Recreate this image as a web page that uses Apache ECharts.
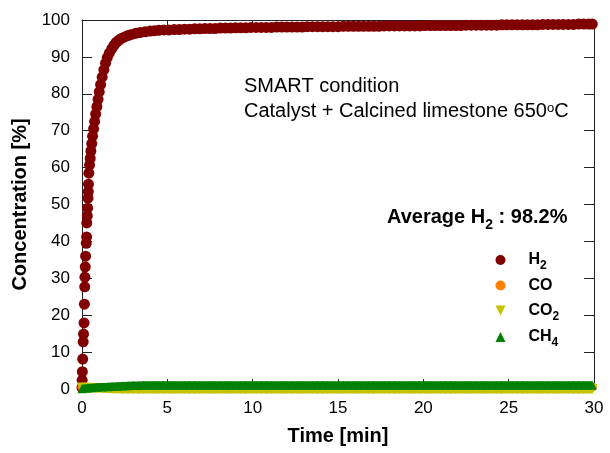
<!DOCTYPE html>
<html>
<head>
<meta charset="utf-8">
<script src="https://cdn.jsdelivr.net/npm/echarts@6/dist/echarts.min.js"></script>
<style>html,body{margin:0;padding:0;background:#fff}#c{width:610px;height:453px}</style>
</head>
<body>
<div id="c"></div>
<script>
// ---------- DATA ----------
const seriesNames = ['H2', 'CO', 'CO2', 'CH4'];

const h2Time = [
  0, 0.01, 0.02, 0.04, 0.07, 0.09, 0.12, 0.14, 0.16, 0.17,
  0.19, 0.21, 0.25, 0.27, 0.28, 0.31, 0.33, 0.35, 0.37, 0.38,
  0.40, 0.44, 0.48, 0.52, 0.57, 0.62, 0.68, 0.74, 0.80, 0.87,
  0.94, 1.01, 1.09, 1.18, 1.28, 1.38, 1.48, 1.60, 1.74, 1.87,
  2.00, 2.15, 2.30, 2.50, 2.70, 2.90, 3.15, 3.40, 3.70, 4.00,
  4.25,
  4.5, 4.8, 5.1, 5.4, 5.7, 6.0, 6.3, 6.6, 6.9, 7.2,
  7.5, 7.8, 8.1, 8.4, 8.7, 9.0, 9.3, 9.6, 9.9, 10.2,
  10.5, 10.8, 11.1, 11.4, 11.7, 12.0, 12.3, 12.6, 12.9, 13.2,
  13.5, 13.8, 14.1, 14.4, 14.7, 15.0, 15.3, 15.6, 15.9, 16.2,
  16.5, 16.8, 17.1, 17.4, 17.7, 18.0, 18.3, 18.6, 18.9, 19.2,
  19.5, 19.8, 20.1, 20.4, 20.7, 21.0, 21.3, 21.6, 21.9, 22.2,
  22.5, 22.8, 23.1, 23.4, 23.7, 24.0, 24.3, 24.6, 24.9, 25.2,
  25.5, 25.8, 26.1, 26.4, 26.7, 27.0, 27.3, 27.6, 27.9, 28.2,
  28.5, 28.8, 29.1, 29.4, 29.7, 29.9
];
const h2Value = [
  0.4, 2.4, 4.7, 8.1, 12.8, 14.9, 17.9, 23.0, 27.7, 30.3,
  33.1, 36.0, 39.5, 41.2, 45.0, 46.9, 49.0, 51.7, 53.5, 55.5,
  58.5, 60.7, 62.5, 64.5, 66.5, 68.5, 70.5, 72.5, 74.5, 76.5,
  78.5, 80.5, 82.5, 84.5, 86.5, 88.3, 89.8, 91.0, 92.2, 93.1,
  93.9, 94.5, 95.0, 95.4, 95.8, 96.1, 96.4, 96.6, 96.8, 97.0,
  97.1,
  97.2, 97.3, 97.3, 97.4, 97.4, 97.5, 97.5, 97.6, 97.6, 97.7,
  97.7, 97.7, 97.8, 97.8, 97.8, 97.9, 97.9, 97.9, 98.0, 98.0,
  98.0, 98.0, 98.0, 98.1, 98.1, 98.1, 98.1, 98.1, 98.1, 98.2,
  98.2, 98.2, 98.2, 98.2, 98.2, 98.2, 98.3, 98.3, 98.3, 98.3,
  98.3, 98.3, 98.3, 98.3, 98.4, 98.4, 98.4, 98.4, 98.4, 98.4,
  98.4, 98.4, 98.5, 98.5, 98.5, 98.5, 98.5, 98.5, 98.5, 98.5,
  98.6, 98.6, 98.6, 98.6, 98.6, 98.6, 98.6, 98.7, 98.7, 98.7,
  98.7, 98.7, 98.7, 98.7, 98.7, 98.8, 98.8, 98.8, 98.8, 98.8,
  98.8, 98.8, 98.9, 98.9, 98.9, 98.9
];

const gasTime = [
  0, 0.3, 0.6, 0.9, 1.2, 1.5, 1.8, 2.1, 2.4, 2.7,
  3.0, 3.3, 3.6, 3.9, 4.2, 4.5, 4.8, 5.1, 5.4, 5.7,
  6.0, 6.3, 6.6, 6.9, 7.2, 7.5, 7.8, 8.1, 8.4, 8.7,
  9.0, 9.3, 9.6, 9.9, 10.2, 10.5, 10.8, 11.1, 11.4, 11.7,
  12.0, 12.3, 12.6, 12.9, 13.2, 13.5, 13.8, 14.1, 14.4, 14.7,
  15.0, 15.3, 15.6, 15.9, 16.2, 16.5, 16.8, 17.1, 17.4, 17.7,
  18.0, 18.3, 18.6, 18.9, 19.2, 19.5, 19.8, 20.1, 20.4, 20.7,
  21.0, 21.3, 21.6, 21.9, 22.2, 22.5, 22.8, 23.1, 23.4, 23.7,
  24.0, 24.3, 24.6, 24.9, 25.2, 25.5, 25.8, 26.1, 26.4, 26.7,
  27.0, 27.3, 27.6, 27.9, 28.2, 28.5, 28.8, 29.1, 29.4, 29.7,
  29.9
];
const coValue = [
  0.5, 0.45, 0.4, 0.4, 0.4, 0.4, 0.4, 0.4, 0.4, 0.4,
  0.4, 0.4, 0.4, 0.4, 0.4, 0.4, 0.4, 0.4, 0.4, 0.4,
  0.4, 0.4, 0.4, 0.4, 0.4, 0.4, 0.4, 0.4, 0.4, 0.4,
  0.4, 0.4, 0.4, 0.4, 0.4, 0.4, 0.4, 0.4, 0.4, 0.4,
  0.4, 0.4, 0.4, 0.4, 0.4, 0.4, 0.4, 0.4, 0.4, 0.4,
  0.4, 0.4, 0.4, 0.4, 0.4, 0.4, 0.4, 0.4, 0.4, 0.4,
  0.4, 0.4, 0.4, 0.4, 0.4, 0.4, 0.4, 0.4, 0.4, 0.4,
  0.4, 0.4, 0.4, 0.4, 0.4, 0.4, 0.4, 0.4, 0.4, 0.4,
  0.4, 0.4, 0.4, 0.4, 0.4, 0.4, 0.4, 0.4, 0.4, 0.4,
  0.4, 0.4, 0.4, 0.4, 0.4, 0.4, 0.4, 0.4, 0.4, 0.45,
  0.5
];
const co2Value = [
  0.4, 0.35, 0.3, 0.25, 0.2, 0.15, 0.1, 0.05, 0.02, 0.0,
  0.0, 0.0, 0.0, 0.0, 0.0, 0.0, 0.0, 0.0, 0.0, 0.0,
  0.0, 0.0, 0.0, 0.0, 0.0, 0.0, 0.0, 0.0, 0.0, 0.0,
  0.0, 0.0, 0.0, 0.0, 0.0, 0.0, 0.0, 0.0, 0.0, 0.0,
  0.0, 0.0, 0.0, 0.0, 0.0, 0.0, 0.0, 0.0, 0.0, 0.0,
  0.0, 0.0, 0.0, 0.0, 0.0, 0.0, 0.0, 0.0, 0.0, 0.0,
  0.0, 0.0, 0.0, 0.0, 0.0, 0.0, 0.0, 0.0, 0.0, 0.0,
  0.0, 0.0, 0.0, 0.0, 0.0, 0.0, 0.0, 0.0, 0.0, 0.0,
  0.0, 0.0, 0.0, 0.0, 0.0, 0.0, 0.0, 0.0, 0.0, 0.0,
  0.0, 0.0, 0.0, 0.0, 0.0, 0.0, 0.0, 0.0, 0.0, 0.0,
  0.0
];
const ch4Value = [
  0.05, 0.2, 0.35, 0.45, 0.55, 0.6, 0.68, 0.75, 0.82, 0.88,
  0.93, 0.97, 1.0, 1.0, 1.0, 1.0, 1.0, 1.0, 1.0, 1.0,
  1.0, 1.0, 1.0, 1.0, 1.0, 1.0, 1.0, 1.0, 1.0, 1.0,
  1.0, 1.0, 1.0, 1.0, 1.0, 1.0, 1.0, 1.0, 1.0, 1.0,
  1.0, 1.0, 1.0, 1.0, 1.0, 1.0, 1.0, 1.0, 1.0, 1.0,
  1.0, 1.0, 1.0, 1.0, 1.0, 1.0, 1.0, 1.0, 1.0, 1.0,
  1.0, 1.0, 1.0, 1.0, 1.0, 1.0, 1.0, 1.0, 1.0, 1.0,
  1.0, 1.0, 1.0, 1.0, 1.0, 1.0, 1.0, 1.0, 1.0, 1.0,
  1.0, 1.0, 1.0, 1.0, 1.0, 1.0, 1.0, 1.0, 1.0, 1.0,
  1.0, 1.0, 1.0, 1.0, 1.0, 1.0, 1.0, 1.0, 1.0, 1.0,
  1.0
];

const xMin = 0, xMax = 30, xStep = 5;
const yMin = 0, yMax = 100, yStep = 10;

// ---------- STYLE ----------
const FONT = '"Liberation Sans", Arial, Helvetica, sans-serif';
const colors = { H2: '#800000', CO: '#ff8000', CO2: '#c3c300', CH4: '#008000' };
const pairs = (t, v) => t.map((x, i) => [x, v[i]]);

const chart = echarts.init(document.getElementById('c'), null, { renderer: 'canvas' });

const baseAxis = {
  type: 'value',
  axisLine: { show: true, onZero: false, lineStyle: { color: '#222', width: 1 } },
  axisTick: { show: true, inside: true, length: 10, lineStyle: { color: '#222', width: 1 } },
  splitLine: { show: false },
  minorTick: { show: false }
};
const labelStyle = { color: '#000', fontSize: 17, fontFamily: FONT };
const nameStyle = { color: '#000', fontSize: 20, fontWeight: 'bold', fontFamily: FONT };

const legendLabels = {
  H2: '{b|H}{s|2}', CO: '{b|CO}', CO2: '{b|CO}{s|2}', CH4: '{b|CH}{s|4}'
};
const legendIcons = {
  H2: 'circle', CO: 'circle',
  CO2: 'path://M0,0L10,0L5,10Z',
  CH4: 'path://M5,0L10,10L0,10Z'
};
const legendTops = [252, 277.5, 302.5, 329];

const option = {
  animation: false,
  backgroundColor: '#fff',
  grid: { left: 82, right: 16, top: 20, bottom: 64, containLabel: false, outerBoundsMode: 'none' },
  xAxis: [
    Object.assign({}, baseAxis, {
      min: xMin, max: xMax, interval: xStep, position: 'bottom',
      axisLabel: Object.assign({ margin: 11 }, labelStyle),
      name: 'Time [min]', nameLocation: 'middle', nameGap: 37, nameTextStyle: nameStyle
    }),
    Object.assign({}, baseAxis, {
      min: xMin, max: xMax, interval: xStep, position: 'top',
      axisLabel: { show: false }
    })
  ],
  yAxis: [
    Object.assign({}, baseAxis, {
      min: yMin, max: yMax, interval: yStep, position: 'left',
      axisLabel: Object.assign({ margin: 12 }, labelStyle),
      name: 'Concentration [%]', nameLocation: 'middle', nameGap: 50, nameTextStyle: nameStyle
    }),
    Object.assign({}, baseAxis, {
      min: yMin, max: yMax, interval: yStep, position: 'right',
      axisLabel: { show: false }
    })
  ],
  legend: seriesNames.map((n, i) => ({
    data: [{ name: n, icon: legendIcons[n] }],
    orient: 'vertical',
    left: 495.5,
    top: legendTops[i],
    padding: 0,
    itemWidth: 46,
    itemHeight: 10,
    selectedMode: false,
    formatter: (name) => legendLabels[name],
    textStyle: {
      color: '#000', fontSize: 16, fontWeight: 'bold', fontFamily: FONT,
      rich: {
        b: { color: '#000', fontSize: 16, fontWeight: 'bold', fontFamily: FONT, lineHeight: 24 },
        s: { color: '#000', fontSize: 12, fontWeight: 'bold', fontFamily: FONT, verticalAlign: 'bottom' }
      }
    }
  })),
  graphic: [
    {
      type: 'text', x: 244, y: 86, silent: true,
      style: { text: 'SMART condition', fontSize: 20, fontFamily: FONT, fill: '#000', verticalAlign: 'middle' }
    },
    {
      type: 'text', x: 244, y: 111, silent: true,
      style: {
        text: '{a|Catalyst + Calcined limestone 650}{s|o}{a|C}',
        verticalAlign: 'middle',
        rich: {
          a: { fontSize: 20, fontFamily: FONT, fill: '#000', lineHeight: 19 },
          s: { fontSize: 13, fontFamily: FONT, fill: '#000', verticalAlign: 'top' }
        }
      }
    },
    {
      type: 'text', x: 387, y: 217, silent: true,
      style: {
        text: '{b|Average H}{s|2}{b| : 98.2%}',
        verticalAlign: 'middle',
        rich: {
          b: { fontSize: 20, fontWeight: 'bold', fontFamily: FONT, fill: '#000', lineHeight: 31 },
          s: { fontSize: 14, fontWeight: 'bold', fontFamily: FONT, fill: '#000', verticalAlign: 'bottom' }
        }
      }
    }
  ],
  series: [
    {
      name: 'H2', type: 'scatter', data: pairs(h2Time, h2Value),
      symbol: 'circle', symbolSize: 11, clip: false, silent: true,
      itemStyle: { color: colors.H2, opacity: 1 }, z: 2
    },
    {
      name: 'CO', type: 'scatter', data: pairs(gasTime, coValue),
      symbol: 'circle', symbolSize: 9, clip: false, silent: true,
      itemStyle: { color: colors.CO, opacity: 1 }, z: 3
    },
    {
      name: 'CO2', type: 'line', data: pairs(gasTime, co2Value),
      symbol: 'path://M0,0L10,0L5,10Z', symbolSize: 10, showSymbol: true, showAllSymbol: true,
      clip: false, silent: true,
      itemStyle: { color: colors.CO2, opacity: 1 },
      lineStyle: { color: colors.CO2, width: 9 }, z: 4
    },
    {
      name: 'CH4', type: 'line', data: pairs(gasTime, ch4Value),
      symbol: 'triangle', symbolSize: 9, showSymbol: true, showAllSymbol: true,
      clip: false, silent: true,
      itemStyle: { color: colors.CH4, opacity: 1 },
      lineStyle: { color: colors.CH4, width: 8 }, z: 5
    }
  ]
};
chart.setOption(option);
</script>
</body>
</html>
